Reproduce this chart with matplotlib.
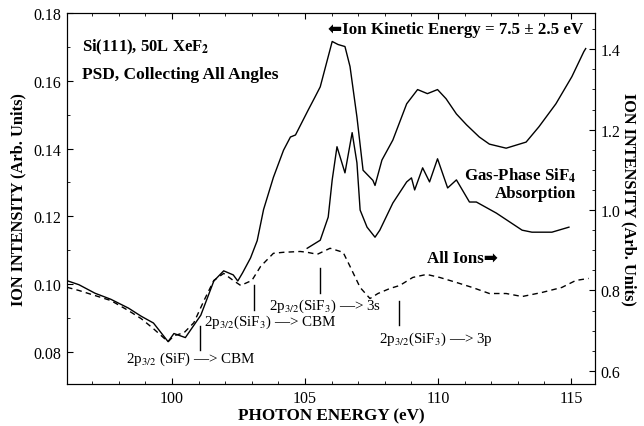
import numpy as np
import matplotlib
matplotlib.use("Agg")
import matplotlib.pyplot as plt
from matplotlib.ticker import MultipleLocator

plt.rcParams['font.family'] = ['Liberation Serif', 'DejaVu Sans']
plt.rcParams['mathtext.fontset'] = 'stix'

# ---- data ----
# ion kinetic energy 7.5 +- 2.5 eV (left axis)
ke_energy = [96.05, 96.5, 97.1, 97.7, 98.36, 98.84, 99.3, 99.85, 100.07, 100.5,
             101.08, 101.57, 101.94, 102.3, 102.47, 102.65, 102.95, 103.2, 103.44,
             103.81, 104.19, 104.45, 104.64, 105.12, 105.38, 105.57, 106.02, 106.24,
             106.5, 106.69, 106.95, 107.18, 107.55, 107.63, 107.89, 108.3, 108.82,
             109.23, 109.6, 109.98, 110.3, 110.69, 111.07, 111.55, 111.93, 112.56,
             113.31, 113.79, 114.43, 115.03, 115.48, 115.55]
ke_signal = [0.1010, 0.0998, 0.0973, 0.0955, 0.0929, 0.0905, 0.0885, 0.0830, 0.0854, 0.0842,
             0.0908, 0.1009, 0.1039, 0.1027, 0.1009, 0.1033, 0.1077, 0.1128, 0.1220,
             0.1315, 0.1395, 0.1434, 0.1440, 0.1514, 0.1553, 0.1582, 0.1716, 0.1707,
             0.1701, 0.1642, 0.1493, 0.1336, 0.1306, 0.1291, 0.1366, 0.1425, 0.1532,
             0.1574, 0.1562, 0.1574, 0.1547, 0.1502, 0.1470, 0.1434, 0.1413, 0.1401,
             0.1419, 0.1464, 0.1532, 0.1612, 0.1686, 0.1695]

# all ions (right axis)
all_energy = [96.05, 96.5, 97.1, 97.7, 98.36, 98.84, 99.3, 99.85, 100.07, 100.45, 100.82,
              101.2, 101.57, 101.94, 102.3, 102.58, 103.0, 103.33, 103.81, 104.19, 104.82,
              105.08, 105.46, 105.94, 106.43, 106.69, 107.07, 107.44, 107.74, 108.19,
              108.56, 109.05, 109.57, 110.06, 110.69, 111.29, 111.93, 112.56, 113.16,
              113.9, 114.65, 115.18, 115.66]
all_signal = [0.808, 0.800, 0.7875, 0.775, 0.750, 0.730, 0.705, 0.6725, 0.6875, 0.695, 0.720,
              0.775, 0.825, 0.8425, 0.825, 0.8125, 0.825, 0.860, 0.8925, 0.895, 0.897,
              0.895, 0.890, 0.905, 0.895, 0.860, 0.8075, 0.780, 0.7925, 0.805,
              0.8125, 0.8325, 0.840, 0.8325, 0.820, 0.8075, 0.7925, 0.7925, 0.785,
              0.795, 0.8075, 0.825, 0.830]

# gas-phase SiF4 absorption (plotted on right axis scale)
gas_energy = [105.08, 105.57, 105.87, 106.02, 106.2, 106.35, 106.5, 106.77, 106.95, 107.07,
              107.33, 107.63, 107.81, 108.3, 108.82, 109.0, 109.12, 109.42, 109.68, 109.98,
              110.36, 110.69, 111.18, 111.44, 112.19, 113.16, 113.53, 114.28, 114.92]
gas_signal = [0.905, 0.925, 0.9825, 1.075, 1.1575, 1.125, 1.0925, 1.1925, 1.1175, 1.0,
              0.9575, 0.9325, 0.950, 1.0175, 1.070, 1.080, 1.050, 1.105, 1.070, 1.1275,
              1.055, 1.075, 1.020, 1.020, 0.9925, 0.950, 0.945, 0.945, 0.9575]

# transition markers: label, energy, line bottom/top (left axis units)
mark_labels = [r"2p$_{3/2}$ (SiF) —> CBM",
               r"2p$_{3/2}$(SiF$_3$) —> CBM",
               r"2p$_{3/2}$(SiF$_3$) —> 3s",
               r"2p$_{3/2}$(SiF$_3$) —> 3p"]
mark_energy = [101.05, 103.07, 105.57, 108.52]
mark_lo = [0.0804, 0.0923, 0.0973, 0.0878]
mark_hi = [0.0875, 0.0997, 0.1048, 0.0949]

fig = plt.figure(figsize=(6.44, 4.27), dpi=100)
ax = fig.add_axes([67 / 644, 1 - 385 / 427, 528 / 644, 371 / 427])
ax2 = ax.twinx()

ax.plot(ke_energy, ke_signal, color='black', lw=1.0)
ax2.plot(all_energy, all_signal, color='black', lw=1.0, ls=(0, (4, 3)))
ax2.plot(gas_energy, gas_signal, color='black', lw=1.0)

ax.set_xlim(96.05, 115.9)
ax.set_ylim(0.0705, 0.18)
ax2.set_ylim(0.5675, 1.49)

ax.xaxis.set_major_locator(MultipleLocator(5))
ax.xaxis.set_minor_locator(MultipleLocator(1))
ax.yaxis.set_major_locator(MultipleLocator(0.02))
ax.yaxis.set_minor_locator(MultipleLocator(0.01))
ax2.yaxis.set_major_locator(MultipleLocator(0.2))
ax2.yaxis.set_minor_locator(MultipleLocator(0.05))
ax.yaxis.set_major_formatter(plt.FormatStrFormatter('%.2f'))
ax2.yaxis.set_major_formatter(plt.FormatStrFormatter('%.1f'))

ax.tick_params(which='both', direction='in', top=True, right=False, labelsize=11.5, pad=4)
ax.tick_params(which='major', length=4)
ax.tick_params(which='minor', length=2.5)
ax2.tick_params(which='both', direction='in', labelsize=11.5, pad=4)
ax2.tick_params(which='major', length=4)
ax2.tick_params(which='minor', length=2.5)

ax.set_xlabel("PHOTON ENERGY (eV)", fontsize=12.3, fontweight='bold', labelpad=1)
ax.set_ylabel("ION INTENSITY (Arb. Units)", fontsize=11.8, fontweight='bold', labelpad=5)
ax2.set_ylabel("ION INTENSITY (Arb. Units)", fontsize=11.8, fontweight='bold',
               rotation=270, labelpad=12)

# transition markers
for lab, e, lo, hi in zip(mark_labels, mark_energy, mark_lo, mark_hi):
    ax.plot([e, e], [lo, hi], color='black', lw=1.0)
ax.text(100.7, 0.0780, mark_labels[0], fontsize=10.8, ha='center', va='center')
ax.text(101.2, 0.0890, mark_labels[1], fontsize=10.8, ha='left', va='center')
ax.text(103.65, 0.0938, mark_labels[2], fontsize=10.8, ha='left', va='center')
ax.text(107.78, 0.0840, mark_labels[3], fontsize=10.8, ha='left', va='center')

# text labels
ax.text(96.6, 0.1701, r"Si(111), 50L XeF$_\mathbf{2}$", fontsize=12, fontweight='bold', va='center')
ax.text(96.6, 0.1621, "PSD, Collecting All Angles", fontsize=12.5, fontweight='bold', va='center')
ax.text(105.87, 0.1752, "⬅Ion Kinetic Energy = 7.5 ± 2.5 eV", fontsize=12.2,
        fontweight='bold', va='center')
ax.text(115.2, 0.1321, r"Gas-Phase SiF$_\mathbf{4}$", fontsize=12.2, fontweight='bold',
        ha='right', va='center')
ax.text(115.2, 0.1268, "Absorption", fontsize=12.2, fontweight='bold', ha='right', va='center')
ax.text(109.6, 0.1077, "All Ions➡", fontsize=12.2, fontweight='bold', va='center')

fig.savefig("out.png", dpi=100)
